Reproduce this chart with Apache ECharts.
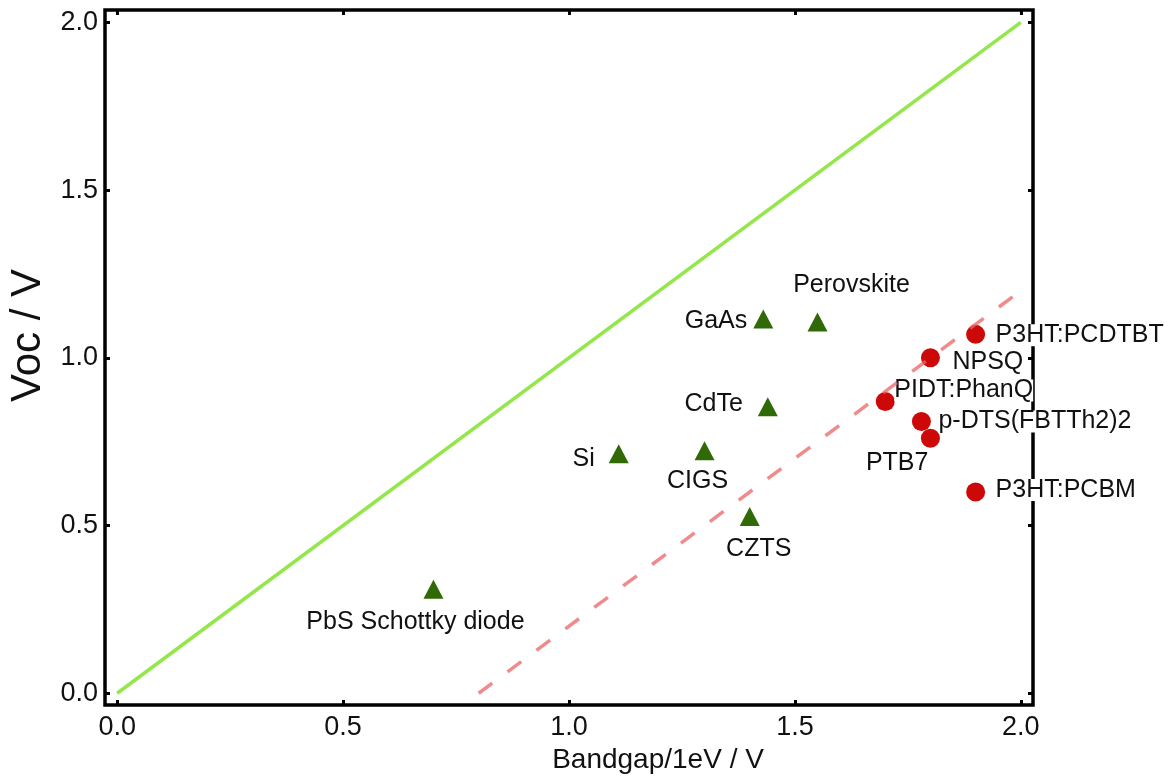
<!DOCTYPE html>
<html><head><meta charset="utf-8">
<script src="https://cdn.jsdelivr.net/npm/echarts@6/dist/echarts.min.js"></script>
<style>html,body{margin:0;padding:0;background:#fff}#c{width:1173px;height:780px}</style>
</head><body><div id="c"></div>
<script>
// ---- data ----
const tickValues = [0, 0.5, 1.0, 1.5, 2.0];
const inorganicNames = ['PbS Schottky diode', 'Si', 'CIGS', 'CZTS', 'CdTe', 'GaAs', 'Perovskite'];
const inorganicBandgap = [0.70, 1.11, 1.30, 1.40, 1.44, 1.43, 1.55];
const inorganicVoc = [0.31, 0.714, 0.723, 0.527, 0.854, 1.116, 1.107];
const organicNames = ['P3HT:PCDTBT', 'NPSQ', 'PIDT:PhanQ', 'p-DTS(FBTTh2)2', 'PTB7', 'P3HT:PCBM'];
const organicBandgap = [1.90, 1.80, 1.70, 1.78, 1.80, 1.90];
const organicVoc = [1.07, 1.00, 0.87, 0.81, 0.76, 0.60];
const idealLineX = [0, 2.0];
const idealLineY = [0, 2.0];
const lossLineX = [0.8, 2.0];
const lossLineY = [0, 1.2];

// ---- label placement (style) ----
const labelPlace = {
  'PbS Schottky diode': {align: 'center', offset: [-18, 33]},
  'Si': {align: 'right', offset: [-24, 5]},
  'CIGS': {align: 'center', offset: [-7, 30]},
  'CZTS': {align: 'center', offset: [9, 33]},
  'CdTe': {align: 'right', offset: [-25, -3]},
  'GaAs': {align: 'right', offset: [-16, 2]},
  'Perovskite': {align: 'center', offset: [34, -37]},
  'P3HT:PCDTBT': {align: 'left', offset: [20, 1]},
  'NPSQ': {align: 'left', offset: [22, 4]},
  'PIDT:PhanQ': {align: 'left', offset: [9, -11]},
  'p-DTS(FBTTh2)2': {align: 'left', offset: [17, 0]},
  'PTB7': {align: 'right', offset: [-2, 25]},
  'P3HT:PCBM': {align: 'left', offset: [20, -2]}
};

const FONT = '"Liberation Sans", Arial, Helvetica, sans-serif';
const INK = '#111';
function pts(xs, ys) { return xs.map((x, i) => [x, ys[i]]); }
function items(names, xs, ys) {
  return names.map((n, i) => ({
    name: n, value: [xs[i], ys[i]],
    label: {show: true, formatter: n, position: 'inside', align: labelPlace[n].align,
      verticalAlign: 'middle', offset: labelPlace[n].offset}
  }));
}
const tickStyle = {show: true, inside: true, length: 5, lineStyle: {width: 3, color: '#000'}, customValues: tickValues};
const noLine = {show: false, onZero: false};
const XMIN = -0.027, XMAX = 2.027, YMIN = -0.035, YMAX = 2.037;

const labelStyle = {fontSize: 25, color: INK, fontFamily: FONT, backgroundColor: '#fff', padding: 0, lineHeight: 22};

const option = {
  animation: false,
  backgroundColor: '#fff',
  grid: {left: 105, right: 140, top: 10, bottom: 75, show: true, borderColor: '#000', borderWidth: 3.5,
    backgroundColor: 'transparent', outerBoundsMode: 'none'},
  xAxis: [
    {type: 'value', position: 'bottom', min: XMIN, max: XMAX, axisLine: noLine,
      axisTick: tickStyle, splitLine: {show: false},
      axisLabel: {customValues: tickValues, formatter: v => v.toFixed(1), fontSize: 27, color: INK, margin: 9, fontFamily: FONT},
      name: 'Bandgap/1eV / V', nameLocation: 'middle', nameGap: 30,
      nameTextStyle: {fontSize: 28, color: INK, fontFamily: FONT, padding: [0, 0, 0, 178]}},
    {type: 'value', position: 'top', min: XMIN, max: XMAX, axisLine: noLine,
      axisTick: tickStyle, splitLine: {show: false}, axisLabel: {show: false}}
  ],
  yAxis: [
    {type: 'value', position: 'left', min: YMIN, max: YMAX, axisLine: noLine,
      axisTick: tickStyle, splitLine: {show: false},
      axisLabel: {customValues: tickValues, formatter: v => v.toFixed(1), fontSize: 27, color: INK, margin: 7, fontFamily: FONT},
      name: 'Voc / V', nameLocation: 'middle', nameGap: 56,
      nameTextStyle: {fontSize: 42, color: INK, fontFamily: FONT, padding: [0, 0, 0, 44]}},
    {type: 'value', position: 'right', min: YMIN, max: YMAX, axisLine: noLine,
      axisTick: tickStyle, splitLine: {show: false}, axisLabel: {show: false}}
  ],
  series: [
    {type: 'line', data: pts(idealLineX, idealLineY), symbol: 'none', z: 3,
      lineStyle: {color: '#93e74a', width: 3.5}, silent: true},
    {type: 'scatter', data: items(inorganicNames, inorganicBandgap, inorganicVoc), symbol: 'triangle',
      symbolSize: [20, 19], itemStyle: {color: '#2f6a06', opacity: 1}, z: 4, label: labelStyle},
    {type: 'scatter', data: items(organicNames, organicBandgap, organicVoc), symbol: 'circle',
      symbolSize: 19, itemStyle: {color: '#cc0808', opacity: 1}, z: 4, label: labelStyle},
    {type: 'line', data: pts(lossLineX, lossLineY), symbol: 'none', z: 6,
      lineStyle: {color: 'rgba(235,100,100,0.75)', width: 3.5, type: [17, 19]}, silent: true}
  ]
};
const chart = echarts.init(document.getElementById('c'), null, {renderer: 'canvas'});
chart.setOption(option);
</script></body></html>
